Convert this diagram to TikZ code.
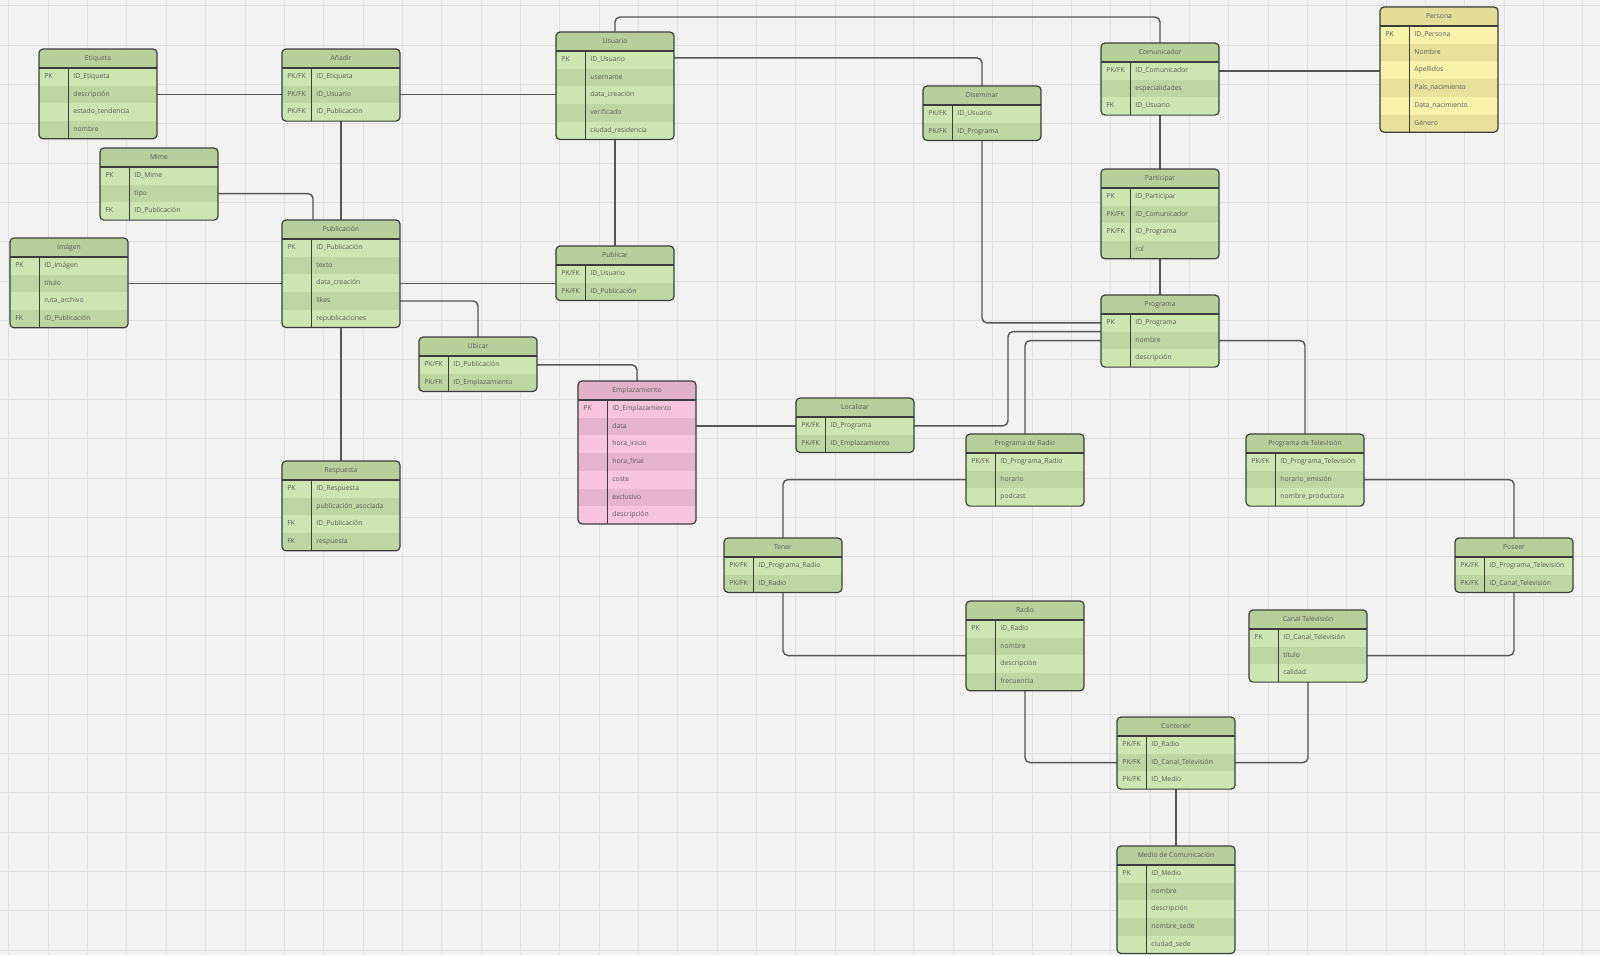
\documentclass[tikz,border=0pt]{standalone}
\usepackage{fontspec}
\setmainfont{Open Sans}
\usetikzlibrary{calc}

\definecolor{paper}{HTML}{F2F2F2}
\definecolor{gridcol}{HTML}{E0E0E0}
\definecolor{boxline}{HTML}{3C3C3C}
\definecolor{linkcol}{HTML}{555555}
\definecolor{txtcol}{HTML}{5A5A5A}
% palettes: header / odd rows / even rows
\definecolor{hdr-green}{HTML}{B8CF9C}
\definecolor{rowa-green}{HTML}{CDE6B1}
\definecolor{rowb-green}{HTML}{BED7A2}
\definecolor{hdr-yellow}{HTML}{E4DD98}
\definecolor{rowa-yellow}{HTML}{F8F1AA}
\definecolor{rowb-yellow}{HTML}{E8E19C}
\definecolor{hdr-pink}{HTML}{E1B2C7}
\definecolor{rowa-pink}{HTML}{F7C4DB}
\definecolor{rowb-pink}{HTML}{E6B4CB}

\pgfdeclarelayer{bg}
\pgfsetlayers{bg,main}

\newcommand\pkfk{PK/FK}

\tikzset{
  gridline/.style={draw=gridcol, line width=0.3pt},
  erframe/.style={draw=boxline, line width=0.6pt, rounded corners=2pt},
  ersep/.style={draw=boxline, line width=0.6pt},
  txt/.style={font=\fontsize{3.4}{4}\selectfont, text=txtcol, inner sep=0pt,
              text height=2.5pt, text depth=0.8pt},
  link/.style={draw=linkcol, line width=0.7pt, rounded corners=2.5pt},
  slot/.style={inner sep=0pt, outer sep=0pt, anchor=north west, minimum width=59pt},
}

% \ertable{name}{left}{top}{title}{palette}{key/field, ...}
\newcommand{\ertable}[6]{%
  \begin{scope}[shift={(#2,#3)}]
    \foreach \kk/\ff [count=\i] in {#6} {\xdef\nrows{\i}}
    \pgfmathsetmacro\tabH{19+\nrows*17.7}
    \pgfmathsetmacro\tabHpt{\tabH*0.5}
    \begin{scope}
      \clip[rounded corners=2pt] (0,0) rectangle (118,\tabH);
      \fill[hdr-#5] (0,0) rectangle (118,19);
      \foreach \kk/\ff [count=\i] in {#6} {
        \pgfmathsetmacro\ya{19+(\i-1)*17.7}
        \pgfmathsetmacro\yb{19+\i*17.7}
        \ifodd\i\relax \def\rc{rowa-#5}\else \def\rc{rowb-#5}\fi
        \fill[\rc] (0,\ya) rectangle (118,\yb);
      }
    \end{scope}
    \node[slot, minimum height=\tabHpt pt] (#1) at (0,0) {};
    \node[txt] (#1-t) at (59,9.5) {#4};
    \foreach \kk/\ff [count=\i] in {#6} {
      \pgfmathsetmacro\ya{19+(\i-1)*17.7}
      \pgfmathsetmacro\ym{19+(\i-0.5)*17.7}
      \node[slot, minimum height=8.85pt] (#1-\i) at (0,\ya) {};
      \node[txt, anchor=west] at (5,\ym) {\kk};
      \node[txt, anchor=west] at (34,\ym) {\ff};
    }
    \draw[ersep] (0,19) -- (118,19);
    \draw[ersep] (29.5,19) -- (29.5,\tabH);
    \draw[erframe] (0,0) rectangle (118,\tabH);
  \end{scope}}

\begin{document}
\begin{tikzpicture}[x=0.5pt,y=-0.5pt]
\useasboundingbox (0,0) rectangle (1600,955);

% paper and grid
\begin{pgfonlayer}{bg}
  \fill[paper] (0,0) rectangle (1600,955);
  \foreach \gx in {0,...,40} \draw[gridline] ({8.7+39.35*\gx},0) -- ({8.7+39.35*\gx},955);
  \foreach \gy in {0,...,24} \draw[gridline] (0,{5.6+39.35*\gy}) -- (1600,{5.6+39.35*\gy});
\end{pgfonlayer}

% tables
\ertable{etq}{39}{49}{Etiqueta}{green}{PK/ID\_Etiqueta, /descripción, /estado\_tendencia, /nombre}
\ertable{ana}{282}{49}{Añadir}{green}{\pkfk/ID\_Etiqueta, \pkfk/ID\_Usuario, \pkfk/ID\_Publicación}
\ertable{mim}{100}{148}{Mime}{green}{PK/ID\_Mime, /tipo, FK/ID\_Publicación}
\ertable{pub}{282}{220}{Publicación}{green}{PK/ID\_Publicación, /texto, /data\_creación, /likes, /republicaciones}
\ertable{img}{10}{238}{Imágen}{green}{PK/ID\_Imágen, /título, /ruta\_archivo, FK/ID\_Publicación}
\ertable{usu}{556}{32}{Usuario}{green}{PK/ID\_Usuario, /username, /data\_creación, /verificado, /ciudad\_residencia}
\ertable{pbl}{556}{246}{Publicar}{green}{\pkfk/ID\_Usuario, \pkfk/ID\_Publicación}
\ertable{dis}{923}{86}{Diseminar}{green}{\pkfk/ID\_Usuario, \pkfk/ID\_Programa}
\ertable{com}{1101}{43}{Comunicador}{green}{\pkfk/ID\_Comunicador, /especialidades, FK/ID\_Usuario}
\ertable{par}{1101}{169}{Participar}{green}{PK/ID\_Participar, \pkfk/ID\_Comunicador, \pkfk/ID\_Programa, /rol}
\ertable{per}{1380}{7}{Persona}{yellow}{PK/ID\_Persona, /Nombre, /Apellidos, /País\_nacimiento, /Data\_nacimiento, /Género}
\ertable{ubi}{419}{337}{Ubicar}{green}{\pkfk/ID\_Publicación, \pkfk/ID\_Emplazamiento}
\ertable{emp}{578}{381}{Emplazamiento}{pink}{PK/ID\_Emplazamiento, /data, /hora\_inicio, /hora\_final, /coste, /exclusivo, /descripción}
\ertable{loc}{796}{398}{Localizar}{green}{\pkfk/ID\_Programa, \pkfk/ID\_Emplazamiento}
\ertable{res}{282}{461}{Respuesta}{green}{PK/ID\_Respuesta, /publicación\_asociada, FK/ID\_Publicación, FK/respuesta}
\ertable{prg}{1101}{295}{Programa}{green}{PK/ID\_Programa, /nombre, /descripción}
\ertable{pdr}{966}{434}{Programa de Radio}{green}{\pkfk/ID\_Programa\_Radio, /horario, /podcast}
\ertable{pdt}{1246}{434}{Programa de Televisión}{green}{\pkfk/ID\_Programa\_Televisión, /horario\_emisión, /nombre\_productora}
\ertable{ten}{724}{538}{Tener}{green}{\pkfk/ID\_Programa\_Radio, \pkfk/ID\_Radio}
\ertable{rad}{966}{601}{Radio}{green}{PK/ID\_Radio, /nombre, /descripción, /frecuencia}
\ertable{pos}{1455}{538}{Poseer}{green}{\pkfk/ID\_Programa\_Televisión, \pkfk/ID\_Canal\_Televisión}
\ertable{can}{1249}{610}{Canal Televisión}{green}{PK/ID\_Canal\_Televisión, /título, /calidad}
\ertable{con}{1117}{717}{Contener}{green}{\pkfk/ID\_Radio, \pkfk/ID\_Canal\_Televisión, \pkfk/ID\_Medio}
\ertable{med}{1117}{846}{Medio de Comunicación}{green}{PK/ID\_Medio, /nombre, /descripción, /nombre\_sede, /ciudad\_sede}

% relationships
\begin{pgfonlayer}{bg}
  \draw[link] (etq-2.east) -- (ana-2.west);
  \draw[link] (ana-2.east) -- (ana-2.east -| usu.west);
  \draw[link] (ana.south) -- (pub.north);
  \draw[link] (mim-2.east) -| ($(pub.north)+(-28,0)$);
  \draw[link] (img-2.east) -- (img-2.east -| pub.west);
  \draw[link] (pub-3.east) -- (pub-3.east -| pbl.west);
  \draw[link] (pub-4.east) -| (ubi.north);
  \draw[link] (pub.south) -- (res.north);
  \draw[link] (usu.south) -- (pbl.north);
  \draw[link] (usu.north) -- ++(0,-15) -| (com.north);
  \draw[link] ($(usu-1.east)+(0,-2)$) -| (dis.north);
  \draw[link] (dis.south) |- (prg-1.west);
  \draw[link] (com.south) -- (par.north);
  \draw[link] (par.south) -- (prg.north);
  \draw[link] (com-1.east) -- (com-1.east -| per.west);
  \draw[link] ($(prg-2.west)+(0,-9)$) -| ($(loc-1.east)+(94,0)$) -- (loc-1.east);
  \draw[link] (prg-2.west) -| (pdr.north);
  \draw[link] (prg-2.east) -| (pdt.north);
  \draw[link] (loc-1.west) -- (loc-1.west -| emp.east);
  \draw[link] (ubi-1.east) -| (emp.north);
  \draw[link] (pdr-2.west) -| (ten.north);
  \draw[link] (ten.south) |- ($(rad-2.west)+(0,9)$);
  \draw[link] (rad.south) |- (con-2.west);
  \draw[link] (can.south) |- (con-2.east);
  \draw[link] (con.south) -- (med.north);
  \draw[link] (pdt-2.east) -| (pos.north);
  \draw[link] (pos.south) |- (can-2.east);
\end{pgfonlayer}
\end{tikzpicture}
\end{document}
